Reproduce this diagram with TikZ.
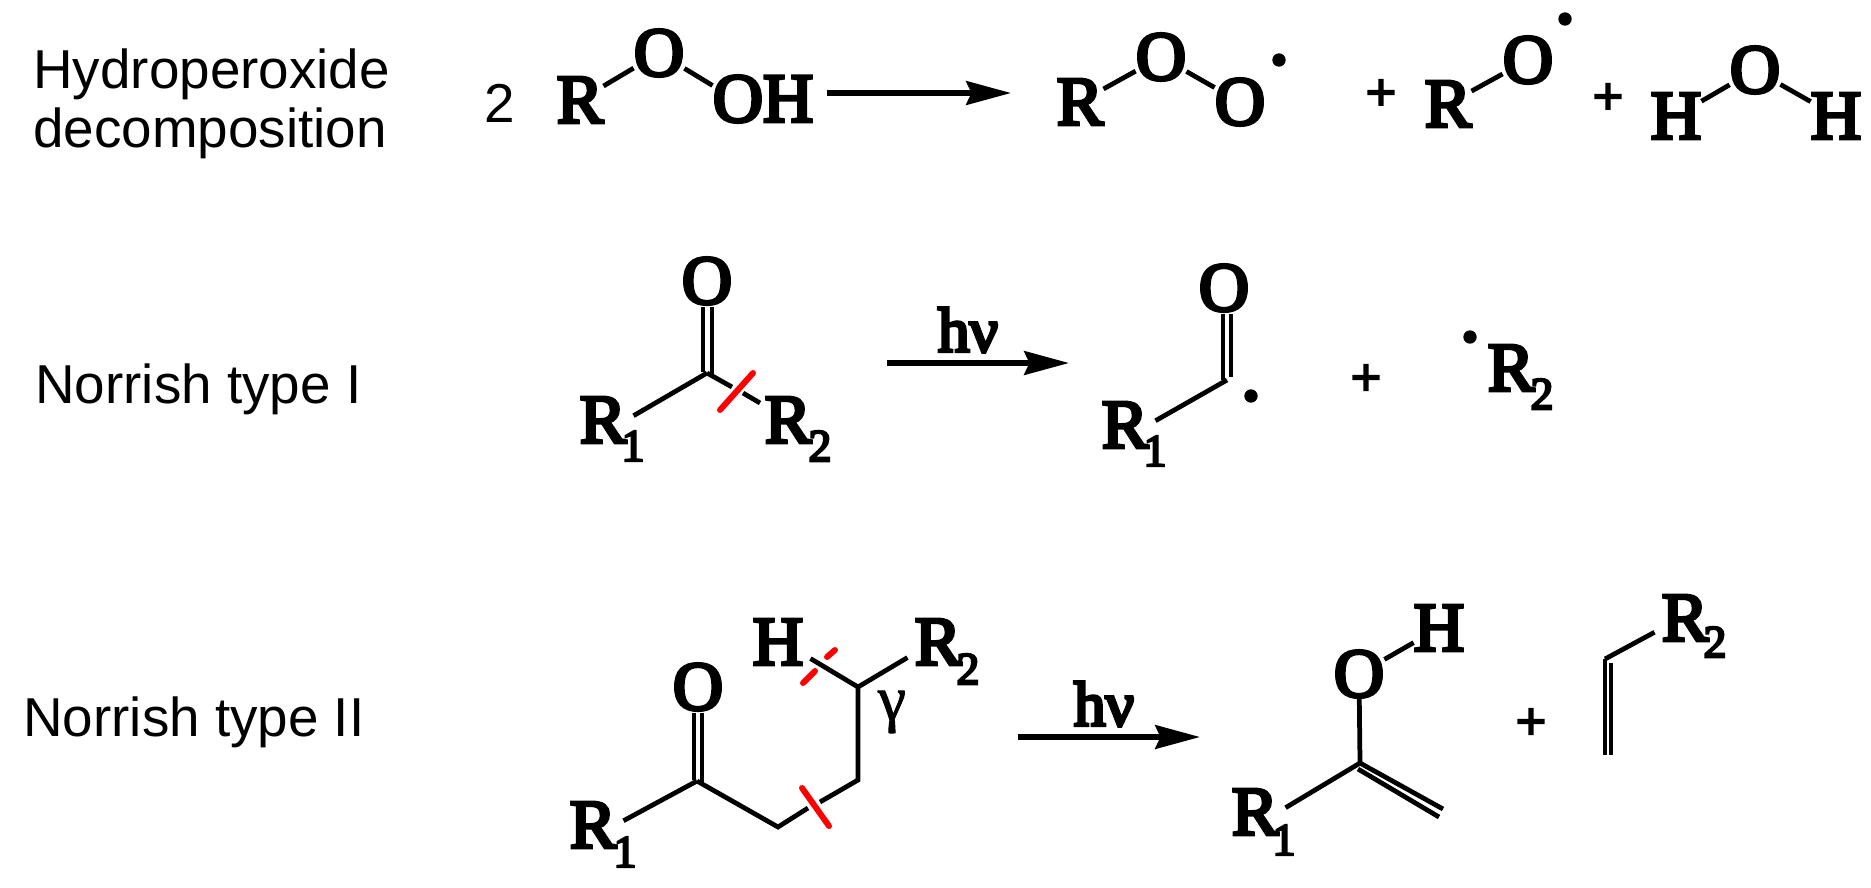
\documentclass[tikz,border=0pt]{standalone}
\usepackage{fontspec}
\setmainfont{Liberation Sans}
\newfontfamily\chemfont[FakeBold=5]{Liberation Serif}
\newfontfamily\greekfont[FakeBold=1.5]{Liberation Serif}
\usetikzlibrary{arrows.meta}
\tikzset{
	atom/.style={inner sep=0pt,font=\chemfont\fontsize{39.5}{39.5}\selectfont},
	ratom/.style={atom,inner xsep=4pt},
	subdigit/.style={inner sep=0pt,font=\chemfont\fontsize{26}{26}\selectfont},
	lightlabel/.style={inner sep=0pt,anchor=west,align=left,font=\fontsize{31.2}{33.5}\selectfont},
	plussign/.style={inner sep=0pt,font=\chemfont\fontsize{30}{30}\selectfont},
	photon/.style={inner sep=0pt,font=\chemfont\fontsize{36}{36}\selectfont},
	raddot/.style={circle,fill=black,inner sep=0pt,minimum size=7.6pt},
	bond/.style={line width=2.7pt},
	cutmark/.style={line width=3.4pt,red,line cap=round},
	rxnarrow/.style={line width=3pt,-{Stealth[length=25.5pt,width=13.5pt,inset=3pt]}}
}
\begin{document}
\begin{tikzpicture}[x=0.02cm,y=-0.02cm]
\useasboundingbox (0,0) rectangle (1871,887);
\node[lightlabel] (hydro) at (33,104) {Hydroperoxide\\decomposition};
\node[lightlabel] (typeone) at (35,389) {Norrish type I};
\node[lightlabel] (typetwo) at (23,722) {Norrish type II};

\foreach \n/\x/\y in {a/1381/95,b/1608/99,c/1366/380,d/1531/724}
	\node[plussign] (plus\n) at (\x,\y) {+};
\foreach \n/\x/\y in {a/1279/60,b/1565/19,c/1251/396,d/1470/337}
	\node[raddot] (dot\n) at (\x,\y) {};

\node[lightlabel,anchor=center] (two) at (500,103) {2};
\node[atom] (ra) at (580,100) {R};
\node[atom] (oa) at (659,53) {O};
\node[atom] (oha) at (763,99) {OH};
\draw[bond] (ra) -- (oa);
\draw[bond] (oa) -- (oha.165);
\coordinate (arrowastart) at (827,93);
\coordinate (arrowaend) at (1011,93);
\draw[rxnarrow] (arrowastart) -- (arrowaend);
\node[atom] (rb) at (1080,102) {R};
\node[atom] (ob) at (1161,57) {O};
\node[atom] (oc) at (1240,102) {O};
\draw[bond] (rb) -- (ob);
\draw[bond] (ob) -- (oc);
\node[atom] (rc) at (1448,104) {R};
\node[atom] (od) at (1528,60) {O};
\draw[bond] (rc) -- (od);
\node[atom] (ha) at (1676,116) {H};
\node[atom] (oe) at (1755,70) {O};
\node[atom] (hb) at (1836,116) {H};
\draw[bond] (ha) -- (oe);
\draw[bond] (oe) -- (hb);

\node[atom] (of) at (707,281) {O};
\coordinate (ca) at (707,373);
\node[ratom] (rd) at (603,420) {R};
\node[subdigit] (rd1) at (633,446) {1};
\node[atom] (re) at (788,420) {R};
\node[subdigit] (re2) at (820,446) {2};
\draw[bond] (703,307) -- (703,372);
\draw[bond] (712,307) -- (712,374);
\draw[bond] (ca) -- (rd.8);
\coordinate (gapa) at (732,387);
\coordinate (gapb) at (743,393);
\coordinate (rbondend) at (760,403);
\draw[bond] (ca) -- (gapa);
\draw[bond] (gapb) -- (rbondend);
\draw[cutmark] (753,373) -- (720,410);
\node[photon] (hva) at (968,330) {hν};
\coordinate (arrowbstart) at (887,363);
\coordinate (arrowbend) at (1069,363);
\draw[rxnarrow] (arrowbstart) -- (arrowbend);
\node[atom] (og) at (1224,288) {O};
\coordinate (cb) at (1227,380);
\draw[bond] (1223,314) -- (1223,380);
\draw[bond] (1231,314) -- (1231,377);
\node[ratom] (rf) at (1125,425) {R};
\node[subdigit] (rf1) at (1155,451) {1};
\draw[bond] (cb) -- (rf.8);
\node[atom] (rg) at (1511,368) {R};
\node[subdigit] (rg2) at (1542,394) {2};

\node[atom] (oh) at (698,687) {O};
\coordinate (cc) at (697,781);
\coordinate (cd) at (778,827);
\coordinate (gapc) at (808,808);
\coordinate (gapd) at (820,802);
\coordinate (ce) at (858,780);
\coordinate (cf) at (858,687);
\node[ratom] (rh) at (593,825) {R};
\node[subdigit] (rh1) at (625,852) {1};
\node[ratom] (hc) at (778,642) {H};
\node[ratom] (ri) at (938,642) {R};
\node[subdigit] (ri2) at (968,669) {2};
\node[inner sep=0pt,font=\greekfont\fontsize{36}{36}\selectfont] (gamma) at (892,712) {γ};
\draw[bond] (694,713) -- (694,780);
\draw[bond] (702,713) -- (702,783);
\draw[bond] (cc) -- (rh.8);
\draw[bond] (cc) -- (cd) -- (gapc);
\draw[bond] (gapd) -- (ce) -- (cf);
\draw[bond] (cf) -- (hc.333);
\draw[bond] (cf) -- (ri.207);
\draw[cutmark] (802,788) -- (829,826);
\draw[cutmark] (835,650) -- (827,657);
\draw[cutmark] (815,671) -- (803,683);
\node[photon] (hvb) at (1104,704) {hν};
\coordinate (arrowcstart) at (1018,737);
\coordinate (arrowcend) at (1200,737);
\draw[rxnarrow] (arrowcstart) -- (arrowcend);
\node[atom] (oi) at (1359,674) {O};
\node[atom] (hd) at (1439,628) {H};
\coordinate (cg) at (1360,763);
\node[ratom] (rj) at (1255,812) {R};
\node[subdigit] (rj1) at (1284,840) {1};
\coordinate (cgend) at (1443,809);
\draw[bond] (oi) -- (hd);
\draw[bond] (oi) -- (cg);
\draw[bond] (cg) -- (rj.8);
\draw[bond] (cg) -- (cgend);
\draw[bond] (1358,769) -- (1439,817);
\coordinate (ch) at (1605,659);
\coordinate (chend) at (1605,755);
\node[ratom] (rk) at (1685,618) {R};
\node[subdigit] (rk2) at (1715,642) {2};
\draw[bond] (ch) -- (chend);
\draw[bond] (1611,663) -- (1611,755);
\draw[bond] (ch) -- (rk.205);
\end{tikzpicture}
\end{document}
